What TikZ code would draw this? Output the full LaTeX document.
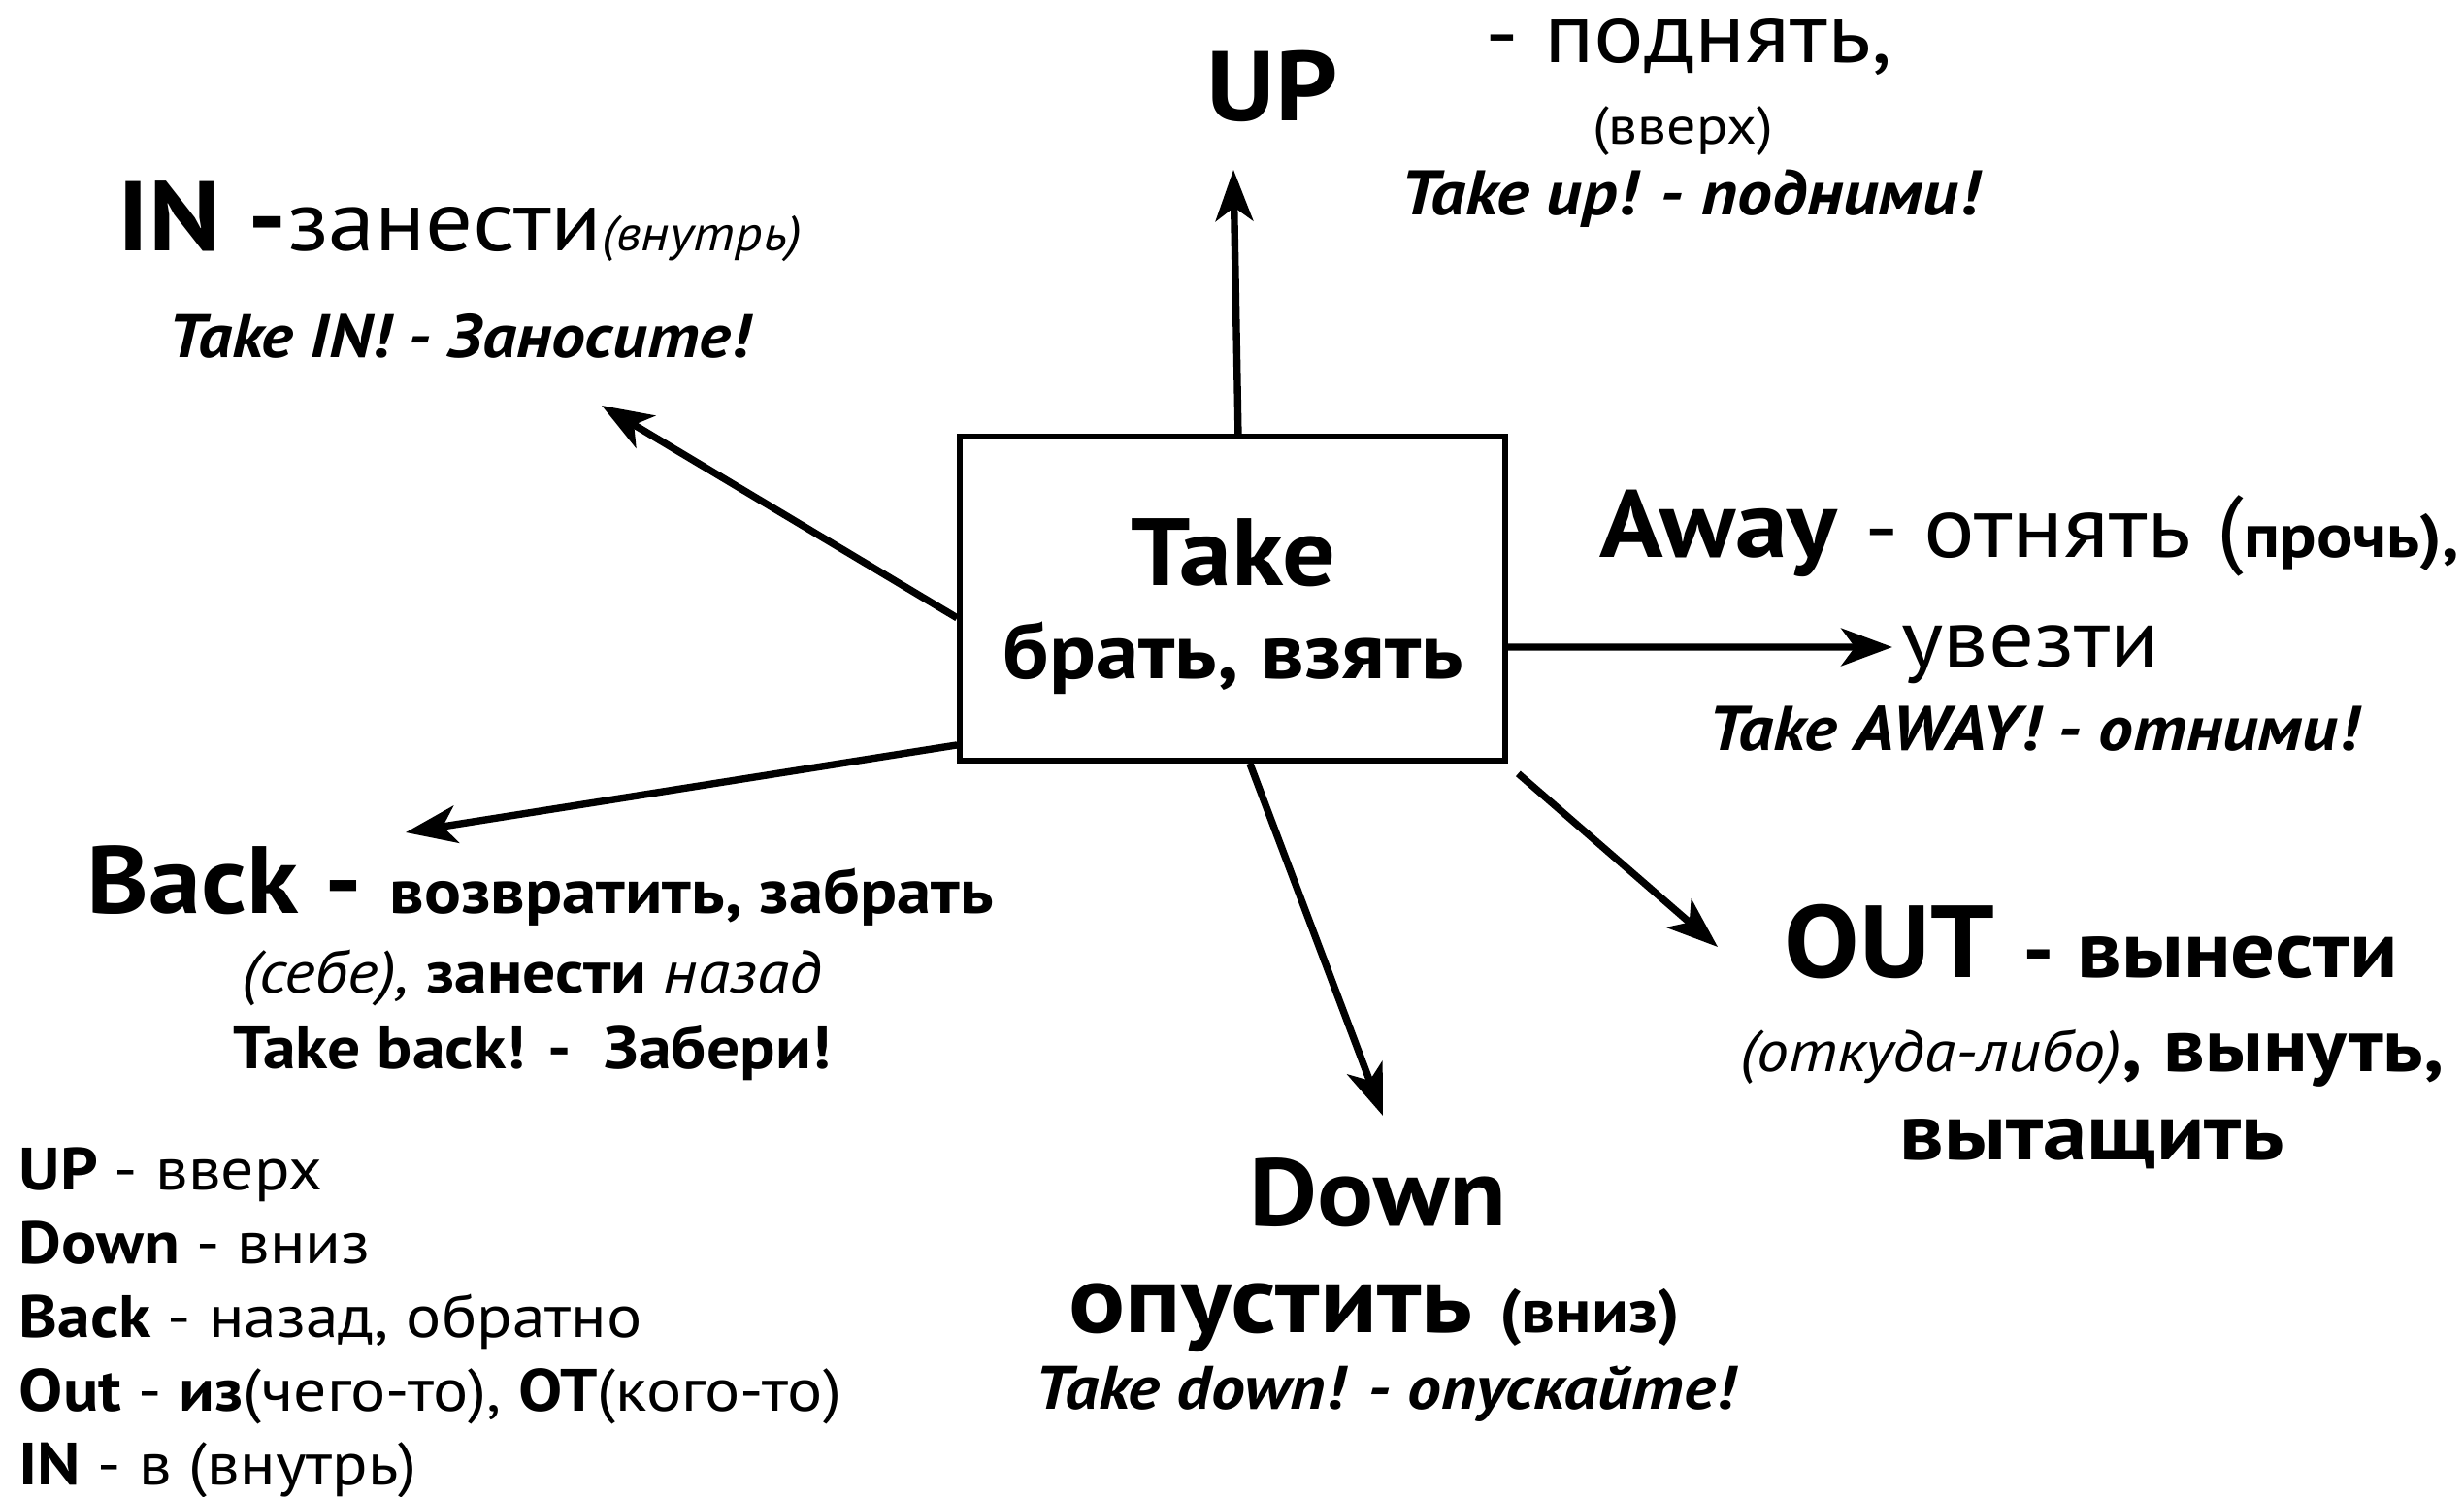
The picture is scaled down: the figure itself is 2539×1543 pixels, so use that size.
\documentclass[tikz,border=0pt]{standalone}
\usepackage{fontspec}
\setmainfont{PT Sans}[FakeStretch=1.1]
\usetikzlibrary{arrows.meta}
\newcommand{\fsz}[1]{\fontsize{#1}{#1}\selectfont}

\begin{document}
\begin{tikzpicture}[x=0.01cm,y=-0.01cm,
    arr/.style={line width=2.1pt,-{Stealth[length=15pt,width=11pt,inset=4pt]}},
    lbl/.style={inner sep=0pt,anchor=base west},
    lblc/.style={inner sep=0pt,anchor=base}]

    \useasboundingbox (0,0) rectangle (2539,1543);

    % centre box
    \node[draw,line width=1.6pt,minimum width=562*0.01cm,minimum height=334*0.01cm,inner sep=0pt]
      (take) at (1270,617) {};
    \node[lblc] (takeword) at (1271,604) {\fsz{28}\bfseries Take};
    \node[lblc] (takeru) at (1271,700) {\fsz{23}\bfseries брать, взять};

    % UP
    \node[lbl] (upword) at (1243,125) {\fsz{29}\bfseries UP};
    \node[lbl] (upverb) at (1530,65) {\fsz{25}- поднять,};
    \node[lblc] (upnote) at (1734,149) {\fsz{15.5}(вверх)};
    \node[lblc] (upex) at (1741,222) {\fsz{18.5}\bfseries\itshape Take up! - подними!};

    % IN
    \node[lbl] (inword) at (121,259) {\fsz{29}\bfseries IN -\mdseries\fsz{25}занести\itshape\fsz{14.5}(внутрь)};
    \node[lblc] (inex) at (473,369) {\fsz{18}\bfseries\itshape Take IN! - Заносите!};

    % AWAY
    \node[lbl] (awayword) at (1648,575) {\fsz{28}\bfseries Away \mdseries\fsz{25.5}- отнять (\bfseries\fsz{18}прочь),};
    \node[lbl] (awayverb) at (1959,688) {\fsz{24}увезти};
    \node[lblc] (awayex) at (2095,774) {\fsz{18.5}\bfseries\itshape Take AWAY! - отними!};

    % OUT
    \node[lbl] (outword) at (1838,1007) {\fsz{30}\bfseries OUT \fsz{23.5}- вынести};
    \node[lblc] (outnote) at (2156,1104) {\fsz{17}\itshape(откуда-либо)\upshape\bfseries\fsz{22}, вынуть,};
    \node[lblc] (outverb) at (2156,1195) {\fsz{23.5}\bfseries вытащить};

    % DOWN
    \node[lblc] (downword) at (1420,1263) {\fsz{28}\bfseries Down};
    \node[lbl] (downverb) at (1101,1373) {\fsz{28}\bfseries опустить \fsz{18}(вниз)};
    \node[lblc] (downex) at (1427,1452) {\fsz{18}\bfseries\itshape Take down! - опускайте!};

    % BACK
    \node[lbl] (backword) at (89,942) {\fsz{28}\bfseries Back - \fsz{18.3}возвратить, забрать};
    \node[lblc] (backnote) at (548,1023) {\fsz{17.5}\itshape(себе), \upshape\bfseries занести \mdseries\itshape назад};
    \node[lblc] (backex) at (548,1101) {\fsz{17.5}\bfseries Take back! -\ \ Забери!};

    % legend
    \node[lbl] (lgup) at (19,1226) {\fsz{17.5}\bfseries UP \mdseries- вверх};
    \node[lbl] (lgdown) at (19,1302) {\fsz{17.5}\bfseries Down \mdseries- вниз};
    \node[lbl] (lgback) at (19,1378) {\fsz{17.5}\bfseries Back \mdseries- назад, обратно};
    \node[lbl] (lgout) at (19,1454) {\fsz{17.5}\bfseries Out \mdseries- \bfseries из\mdseries(чего-то), \bfseries ОТ\mdseries(кого-то)};
    \node[lbl] (lgin) at (19,1530) {\fsz{17.5}\bfseries IN \mdseries- в (внутрь)};

    % arrow ends
    \coordinate (upend) at (1271,175);
    \coordinate (inend) at (620,418);
    \coordinate (awayend) at (1950,667);
    \coordinate (outend) at (1770,976);
    \coordinate (downend) at (1425,1150);
    \coordinate (backend) at (418,858);

    % draw arrows
    \draw[arr] (take.88) -- (upend);
    \draw[arr] (take.184) -- (inend);
    \draw[arr] (take.-10) -- (awayend);
    \draw[arr] ([xshift=3pt,yshift=-3pt]take.south east) -- (outend);
    \draw[arr] (take.-84) -- (downend);
    \draw[arr] (take.208) -- (backend);
\end{tikzpicture}
\end{document}
